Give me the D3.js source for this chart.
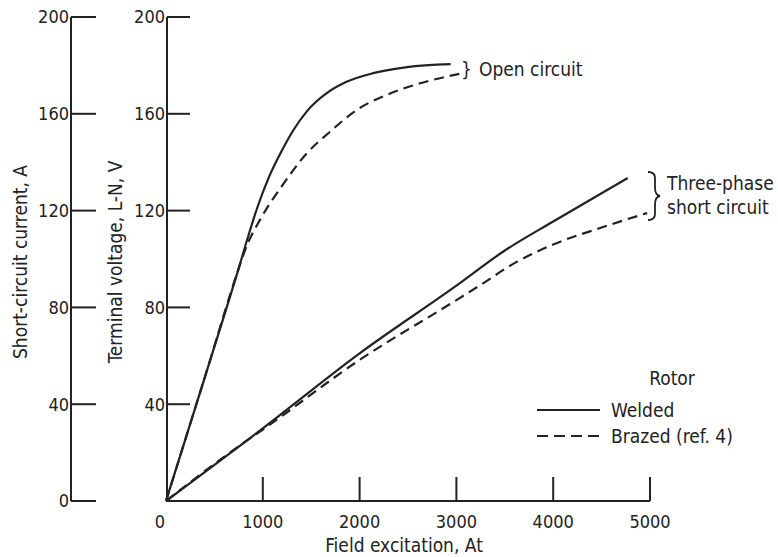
<!DOCTYPE html>
<html>
<head>
<meta charset="utf-8">
<script src="https://cdn.jsdelivr.net/npm/d3@7"></script>
<style>
  body { margin: 0; background: #fff; }
  svg text { font-family: "Liberation Sans Narrow", "DejaVu Sans Condensed", "Liberation Sans", sans-serif; fill: #222; }
</style>
</head>
<body>
<div id="chart"></div>
<script>
// field excitation ticks (At) and shared left-axis ticks (V and A)
var xTicks = [1000, 2000, 3000, 4000, 5000];
var yTicks = [0, 40, 80, 120, 160, 200];

// open circuit, terminal voltage (V)
var ocWeldedX = [0, 400, 750, 850, 950, 1060, 1200, 1320, 1455, 1660, 1865, 2140, 2490, 2940];
var ocWeldedV = [0, 51, 96, 109.5, 122, 133.5, 145, 153.5, 161, 168.5, 173.2, 176.8, 179.3, 180.5];
var ocBrazedX = [0, 400, 750, 815, 990, 1195, 1455, 1695, 1970, 2280, 2625, 3030];
var ocBrazedV = [0, 51, 96, 103.5, 117.5, 130, 143.7, 152.6, 161.6, 167.8, 172.6, 176.5];

// three-phase short circuit, current (A)
var scWeldedX = [0, 1000, 2000, 3000, 3500, 4000, 4770];
var scWeldedA = [0, 30, 61, 89, 103.5, 115.5, 133.5];
var scBrazedX = [0, 800, 1000, 2000, 3000, 3250, 3600, 4000, 4500, 4970];
var scBrazedA = [0, 24, 29.5, 58.3, 83, 89.3, 98.3, 106, 113, 119];

var width = 778, height = 557;
var ink = "#222";

var svg = d3.select("#chart").append("svg")
    .attr("width", width)
    .attr("height", height);

var x = d3.scaleLinear().domain([0, 5000]).range([166, 650]);
var y = d3.scaleLinear().domain([0, 200]).range([501, 17]);

// left axis: short-circuit current
var ax1 = svg.append("g").attr("transform", "translate(71,0)");
ax1.append("line")
    .attr("x1", 0).attr("x2", 0).attr("y1", y(200)).attr("y2", y(0))
    .attr("stroke", ink).attr("stroke-width", 2);
ax1.selectAll("line.tick").data(yTicks).enter().append("line")
    .attr("class", "tick")
    .attr("x1", 0).attr("x2", 25)
    .attr("y1", function (d) { return y(d); })
    .attr("y2", function (d) { return y(d); })
    .attr("stroke", ink).attr("stroke-width", 2);
ax1.selectAll("text").data(yTicks).enter().append("text")
    .attr("x", -2)
    .attr("y", function (d) { return y(d); })
    .attr("dy", "0.35em")
    .attr("text-anchor", "end")
    .style("font-size", "18px")
    .text(function (d) { return d; });

// second axis: terminal voltage
var ax2 = svg.append("g").attr("transform", "translate(167,0)");
ax2.append("line")
    .attr("x1", 0).attr("x2", 0).attr("y1", y(200)).attr("y2", y(0))
    .attr("stroke", ink).attr("stroke-width", 2);
ax2.selectAll("line.tick").data(yTicks.slice(1)).enter().append("line")
    .attr("class", "tick")
    .attr("x1", 0).attr("x2", 23)
    .attr("y1", function (d) { return y(d); })
    .attr("y2", function (d) { return y(d); })
    .attr("stroke", ink).attr("stroke-width", 2);
ax2.selectAll("text").data(yTicks.slice(1)).enter().append("text")
    .attr("x", -2)
    .attr("y", function (d) { return y(d); })
    .attr("dy", "0.35em")
    .attr("text-anchor", "end")
    .style("font-size", "18px")
    .text(function (d) { return d; });

// x axis
var axx = svg.append("g");
axx.append("line")
    .attr("x1", x(0)).attr("x2", x(5000)).attr("y1", y(0)).attr("y2", y(0))
    .attr("stroke", ink).attr("stroke-width", 2);
axx.selectAll("line.tick").data(xTicks).enter().append("line")
    .attr("class", "tick")
    .attr("x1", function (d) { return x(d); })
    .attr("x2", function (d) { return x(d); })
    .attr("y1", y(0)).attr("y2", y(0) - 24)
    .attr("stroke", ink).attr("stroke-width", 2);
axx.selectAll("text").data([0].concat(xTicks)).enter().append("text")
    .attr("x", function (d) { return d === 0 ? x(d) - 6 : x(d); })
    .attr("y", 528)
    .attr("text-anchor", "middle")
    .style("font-size", "18px")
    .text(function (d) { return d; });

// axis titles
svg.append("text")
    .attr("transform", "translate(27,262) rotate(-90)")
    .attr("text-anchor", "middle")
    .style("font-size", "19px")
    .text("Short-circuit current,  A");
svg.append("text")
    .attr("transform", "translate(122,262) rotate(-90)")
    .attr("text-anchor", "middle")
    .style("font-size", "19px")
    .text("Terminal voltage,  L-N,  V");
svg.append("text")
    .attr("x", 404).attr("y", 552)
    .attr("text-anchor", "middle")
    .style("font-size", "19px")
    .text("Field excitation,  At");

// curves
var line = d3.line()
    .x(function (d) { return x(d[0]); })
    .y(function (d) { return y(d[1]); })
    .curve(d3.curveMonotoneX);

var curves = [
  { xs: ocBrazedX, ys: ocBrazedV, dash: "10,6" },
  { xs: scBrazedX, ys: scBrazedA, dash: "10,6" },
  { xs: ocWeldedX, ys: ocWeldedV, dash: null },
  { xs: scWeldedX, ys: scWeldedA, dash: null }
];

svg.selectAll("path.curve").data(curves).enter().append("path")
    .attr("class", "curve")
    .attr("d", function (c) { return line(d3.zip(c.xs, c.ys)); })
    .attr("fill", "none")
    .attr("stroke", ink)
    .attr("stroke-width", 2.2)
    .attr("stroke-dasharray", function (c) { return c.dash; });

// curve labels
svg.append("text")
    .attr("x", 461).attr("y", 76)
    .style("font-size", "19px")
    .text("}");
svg.append("text")
    .attr("x", 479).attr("y", 76)
    .style("font-size", "19px")
    .text("Open circuit");

svg.append("path")
    .attr("d", "M648,172 q7,0 7,6 v10 q0,7 5,8 q-5,1 -5,8 v10 q0,6 -7,6")
    .attr("fill", "none").attr("stroke", ink).attr("stroke-width", 1.8);
svg.append("text")
    .attr("x", 667).attr("y", 190)
    .style("font-size", "19px")
    .text("Three-phase");
svg.append("text")
    .attr("x", 667).attr("y", 214)
    .style("font-size", "19px")
    .text("short circuit");

// legend
var legend = svg.append("g");
legend.append("text")
    .attr("x", 672).attr("y", 385)
    .attr("text-anchor", "middle")
    .style("font-size", "19px")
    .text("Rotor");
var legendItems = [
  { label: "Welded", dash: null, y: 410 },
  { label: "Brazed (ref.  4)", dash: "11,6", y: 436 }
];
legend.selectAll("line").data(legendItems).enter().append("line")
    .attr("x1", 537).attr("x2", 600)
    .attr("y1", function (d) { return d.y; })
    .attr("y2", function (d) { return d.y; })
    .attr("stroke", ink).attr("stroke-width", 2.2)
    .attr("stroke-dasharray", function (d) { return d.dash; });
legend.selectAll("text.item").data(legendItems).enter().append("text")
    .attr("class", "item")
    .attr("x", 611)
    .attr("y", function (d) { return d.y + 7; })
    .style("font-size", "19px")
    .text(function (d) { return d.label; });
</script>
</body>
</html>
